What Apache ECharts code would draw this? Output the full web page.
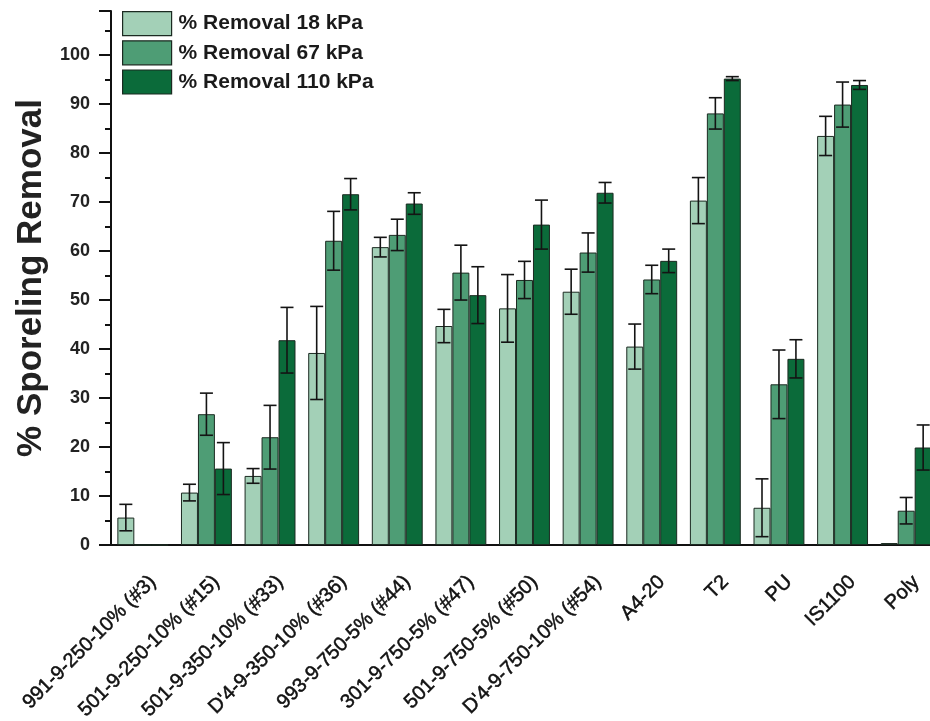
<!DOCTYPE html>
<html>
<head>
<meta charset="utf-8">
<title>% Sporeling Removal</title>
<script src="https://cdn.jsdelivr.net/npm/echarts@6/dist/echarts.min.js"></script>
<style>
  html, body { margin: 0; padding: 0; background: #ffffff; }
  #chart { width: 930px; height: 721px; }
</style>
</head>
<body>
<div id="chart"></div>
<script>
// Coatings / surfaces tested
const categories = [
  '991-9-250-10% (#3)', '501-9-250-10% (#15)', '501-9-350-10% (#33)', "D'4-9-350-10% (#36)",
  '993-9-750-5% (#44)', '301-9-750-5% (#47)', '501-9-750-5% (#50)', "D'4-9-750-10% (#54)",
  'A4-20', 'T2', 'PU', 'IS1100', 'Poly'
];

// Mean removal (%) and standard error at each water-jet pressure
const removal18  = [5.6, 10.7, 14.1, 39.2, 60.8, 44.7, 48.3, 51.7, 40.5, 70.3, 7.6, 83.5, 0.4];
const err18      = [2.7, 1.7, 1.5, 9.5, 2.0, 3.4, 6.9, 4.6, 4.6, 4.7, 5.9, 4.0, 0];
const removal67  = [0, 26.7, 22.0, 62.1, 63.3, 55.6, 54.1, 59.7, 54.2, 88.1, 32.8, 89.9, 7.0];
const err67      = [0, 4.3, 6.5, 6.0, 3.2, 5.6, 3.8, 4.0, 2.9, 3.2, 7.0, 4.6, 2.7];
const removal110 = [0, 15.6, 41.8, 71.6, 69.7, 51.0, 65.4, 71.9, 58.0, 95.2, 38.0, 93.9, 19.9];
const err110     = [0, 5.3, 6.7, 3.2, 2.2, 5.8, 5.0, 2.1, 2.4, 0.4, 3.9, 0.9, 4.6];

const seriesNames = ['% Removal 18 kPa', '% Removal 67 kPa', '% Removal 110 kPa'];

// Y axis range and tick step
const yMin = 0;
const yMax = 109;
const yStep = 10;

const colors = ['#a3d0b7', '#4e9d75', '#0b6b3a'];
const groups = [
  { name: seriesNames[0], values: removal18,  errors: err18 },
  { name: seriesNames[1], values: removal67,  errors: err67 },
  { name: seriesNames[2], values: removal110, errors: err110 }
];

const BAR_SHARE = 0.8;   // part of each category band covered by the three bars

function errorBarRenderer(slot) {
  return function (params, api) {
    const idx = api.value(0);
    const mean = api.value(1);
    const err = api.value(2);
    if (!err) return null;
    const band = api.size([1, 0])[0];
    const barW = band * BAR_SHARE / groups.length;
    const top = api.coord([idx, mean + err]);
    const bottom = api.coord([idx, Math.max(mean - err, 0)]);
    const x = top[0] + (slot - 1) * barW;
    const half = 6.5;
    const style = { stroke: '#141414', lineWidth: 1.6 };
    return {
      type: 'group',
      children: [
        { type: 'line', shape: { x1: x, y1: top[1], x2: x, y2: bottom[1] }, style: style },
        { type: 'line', shape: { x1: x - half, y1: top[1], x2: x + half, y2: top[1] }, style: style },
        { type: 'line', shape: { x1: x - half, y1: bottom[1], x2: x + half, y2: bottom[1] }, style: style }
      ]
    };
  };
}

const series = [];
groups.forEach(function (g, i) {
  series.push({
    name: g.name,
    type: 'bar',
    xAxisIndex: 0,
    yAxisIndex: 0,
    data: g.values,
    barGap: '0%',
    barCategoryGap: '20%',
    itemStyle: { color: colors[i], borderColor: '#1b2a21', borderWidth: 1 },
    emphasis: { disabled: true },
    z: 2
  });
});
groups.forEach(function (g, i) {
  series.push({
    name: g.name + ' error',
    type: 'custom',
    xAxisIndex: 0,
    yAxisIndex: 0,
    renderItem: errorBarRenderer(i),
    data: g.values.map(function (v, k) { return [k, v, g.errors[k]]; }),
    clip: false,
    silent: true,
    z: 5
  });
});

const GRID_LEFT = 111;
const GRID_RIGHT = -8;
const LABEL_SHIFT = 10;

const option = {
  backgroundColor: '#ffffff',
  animation: false,
  textStyle: { fontFamily: 'Liberation Sans, Arial, sans-serif' },
  legend: {
    data: seriesNames,
    orient: 'vertical',
    left: 122,
    top: 11,
    padding: 0,
    itemWidth: 49,
    itemHeight: 24,
    itemGap: 4,
    icon: 'rect',
    selectedMode: false,
    itemStyle: { borderColor: '#1b2a21', borderWidth: 1.2 },
    textStyle: { fontSize: 21, fontWeight: 'bold', color: '#1a1a1a', padding: [0, 0, 0, 2] }
  },
  grid: [
    { left: GRID_LEFT, right: GRID_RIGHT, top: 11, bottom: 176, containLabel: false, outerBoundsMode: 'none' },
    { left: GRID_LEFT + LABEL_SHIFT, right: GRID_RIGHT - LABEL_SHIFT, top: 11, bottom: 176, containLabel: false, outerBoundsMode: 'none' }
  ],
  xAxis: [
    {
      type: 'category',
      gridIndex: 0,
      data: categories,
      axisLine: { lineStyle: { color: '#111', width: 2 } },
      axisTick: { alignWithLabel: true, length: 12, lineStyle: { color: '#111', width: 2 } },
      axisLabel: { show: false },
      splitLine: { show: false }
    },
    {
      type: 'category',
      gridIndex: 1,
      data: categories,
      axisLine: { show: false },
      axisTick: { show: false },
      axisLabel: {
        rotate: 45,
        interval: 0,
        margin: 34,
        fontSize: 20,
        color: '#111',
        textBorderColor: '#111',
        textBorderWidth: 0.5,
        fontFamily: 'Liberation Sans, Arial, sans-serif'
      },
      splitLine: { show: false }
    }
  ],
  yAxis: [
    {
      type: 'value',
      gridIndex: 0,
      min: yMin,
      max: yMax,
      interval: yStep,
      name: '% Sporeling Removal',
      nameLocation: 'middle',
      nameGap: 60,
      nameTextStyle: { fontSize: 35, fontWeight: 'bold', color: '#222' },
      axisLine: { show: true, lineStyle: { color: '#111', width: 2 } },
      axisTick: { show: true, length: 12, lineStyle: { color: '#111', width: 2 } },
      minorTick: { show: true, splitNumber: 2, length: 6, lineStyle: { color: '#111', width: 2 } },
      axisLabel: {
        margin: 21,
        fontSize: 18,
        fontWeight: 'bold',
        color: '#222',
        formatter: function (v) { return (v % yStep === 0 && v <= 100) ? String(v) : ''; }
      },
      splitLine: { show: false }
    },
    {
      type: 'value',
      gridIndex: 1,
      min: yMin,
      max: yMax,
      show: false
    }
  ],
  series: series
};

const chart = echarts.init(document.getElementById('chart'), null, { renderer: 'canvas' });
chart.setOption(option);
</script>
</body>
</html>
